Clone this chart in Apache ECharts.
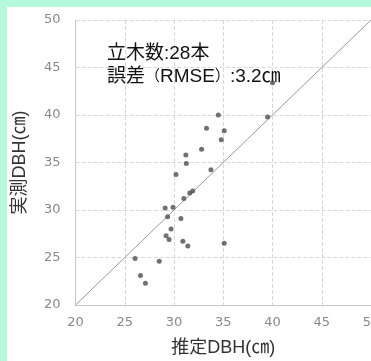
<!DOCTYPE html>
<html><head><meta charset="utf-8">
<script src="https://cdn.jsdelivr.net/npm/echarts@6/dist/echarts.min.js"></script>
<style>
html,body{margin:0;padding:0;width:371px;height:361px;background:#b4f9d9;overflow:hidden;}
#c{position:absolute;left:7px;top:7px;width:364px;height:354px;background:#fff;}
</style></head><body><div id="c"></div>
<script>
const estimated = [34.5,39.5,40.0,33.3,35.1,34.8,32.8,31.2,31.25,33.75,30.2,31.9,31.6,31.0,29.1,29.9,29.35,30.7,29.7,29.2,29.5,30.9,31.4,35.1,26.05,28.5,26.6,27.1];
const measured  = [40.0,39.8,43.4,38.6,38.35,37.4,36.4,35.8,34.9,34.25,33.75,32.0,31.8,31.2,30.2,30.3,29.3,29.1,28.0,27.3,26.9,26.7,26.2,26.5,24.9,24.6,23.1,22.3];
const axisMin = 20, axisMax = 50, axisStep = 5;
const annotationLine1 = '立木数:28本';
const annotationLine2 = ['誤差', '（', 'RMSE', '）', ':3.2㎝'];
const xName = '推定DBH(㎝)', yName = '実測DBH(㎝)';

const pts = estimated.map((v,i)=>[v, measured[i]]);
const chart = echarts.init(document.getElementById('c'), null, {renderer:'canvas'});
const font = '"Liberation Sans", "Noto Sans CJK JP", sans-serif';
const axisCommon = {
  type:'value', min:axisMin, max:axisMax, interval:axisStep,
  nameLocation:'middle',
  nameTextStyle:{fontSize:18, color:'#333', fontFamily:font},
  axisLine:{show:true, lineStyle:{color:'#c8c8c8', width:1}},
  axisTick:{show:false},
  axisLabel:{color:'#888', fontSize:13, fontFamily:'"DejaVu Sans", sans-serif'},
  splitLine:{show:true, lineStyle:{color:'#d8d8d8', type:'dashed', width:1}}
};
const a2 = annotationLine2;
chart.setOption({
  animation:false,
  grid:{left:68.5, right:0, top:13, bottom:56, containLabel:false, outerBoundsMode:'none'},
  title:{
    z:1,
    text: annotationLine1 + '\n' + a2[0] + '{p|' + a2[1] + '}' + a2[2] + '{p|' + a2[3] + '}' + a2[4],
    left:95, top:30,
    textStyle:{fontSize:19, fontWeight:'normal', color:'#111', fontFamily:font, lineHeight:23,
      rich:{p:{fontSize:15, color:'#111', fontFamily:font, lineHeight:23}}}
  },
  xAxis:Object.assign({}, axisCommon, {name:xName, nameGap:34, axisLabel:Object.assign({}, axisCommon.axisLabel, {margin:11})}),
  yAxis:Object.assign({}, axisCommon, {name:yName, nameGap:46, axisLabel:Object.assign({}, axisCommon.axisLabel, {margin:15})}),
  series:[
    {type:'line', data:[[axisMin,axisMin],[axisMax,axisMax]], symbol:'none', silent:true,
     lineStyle:{color:'#9a9a9a', width:1}},
    {type:'scatter', z:10, data:pts, symbolSize:5, itemStyle:{color:'#4d4d4d'}}
  ]
});
</script></body></html>
